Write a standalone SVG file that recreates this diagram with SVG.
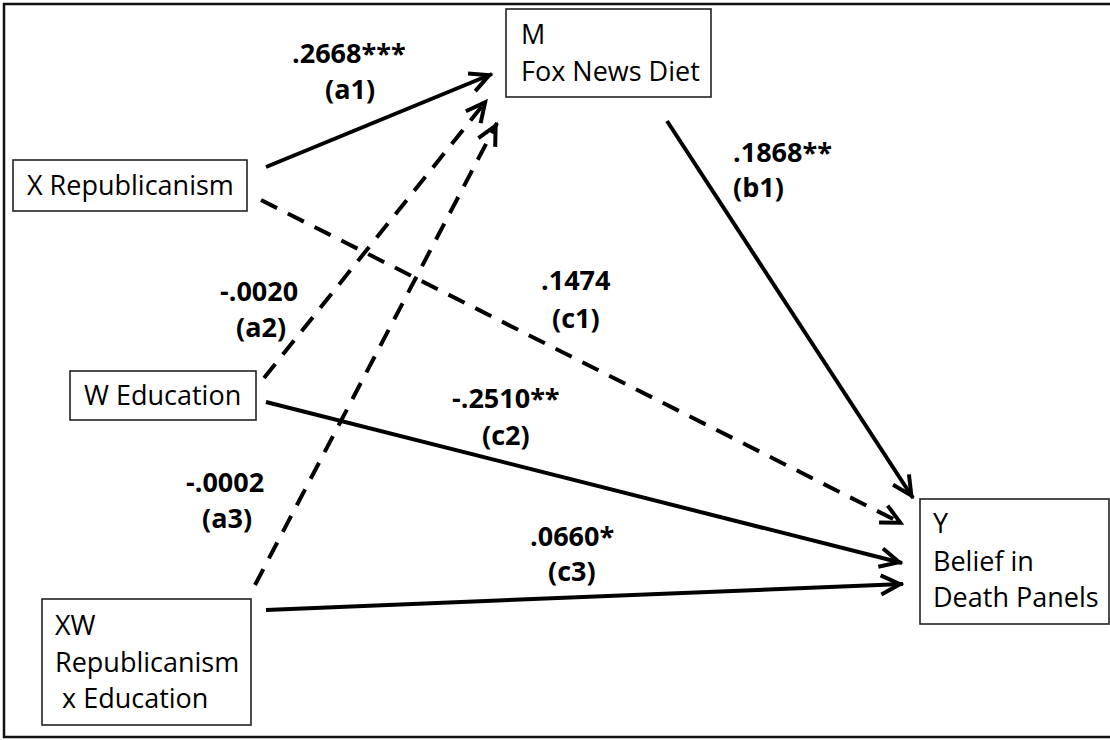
<svg xmlns="http://www.w3.org/2000/svg" width="1110" height="740" viewBox="0 0 1110 740">
<defs>
<style>
.frame{fill:#fff;stroke:#111;stroke-width:2.5}
.box{fill:#fff;stroke:#222;stroke-width:1.6}
.nt{font-family:"Open Sans","Liberation Sans",sans-serif;font-size:27px;fill:#000}
.lb{font-family:"Open Sans","Liberation Sans",sans-serif;font-size:27px;font-weight:bold;fill:#000}
.ln{fill:none;stroke:#000;stroke-width:4;marker-end:url(#arr)}
.dash{stroke-dasharray:18 12}
</style>
<marker id="arr" viewBox="-26 -14 30 28" refX="0" refY="0" markerWidth="30" markerHeight="28" markerUnits="userSpaceOnUse" orient="auto" overflow="visible">
<path d="M-22,-9.5 L-3,0 L-22,9.5" fill="none" stroke="#000" stroke-width="4" stroke-linejoin="miter" stroke-dasharray="none"/>
</marker>
</defs>
<rect class="frame" x="4" y="4" width="1110" height="733"/>
<g id="connectors">
<line id="a1" class="ln" x1="266" y1="167" x2="492" y2="74"/>
<line id="a2" class="ln dash" x1="264" y1="378" x2="487" y2="100"/>
<line id="a3" class="ln dash" x1="255" y1="585" x2="497" y2="123"/>
<line id="b1" class="ln" x1="667" y1="121" x2="913" y2="498"/>
<line id="c1" class="ln dash" x1="261" y1="200" x2="903" y2="524"/>
<line id="c2" class="ln" x1="266" y1="402" x2="902" y2="563"/>
<line id="c3" class="ln" x1="266" y1="610" x2="903" y2="584"/>
</g>
<g id="labels">
<text class="lb" x="292" y="63">.2668***</text>
<text class="lb" x="325" y="99">(a1)</text>
<text class="lb" x="733" y="162">.1868**</text>
<text class="lb" x="733" y="197">(b1)</text>
<text class="lb" x="541" y="290">.1474</text>
<text class="lb" x="552" y="328">(c1)</text>
<text class="lb" x="220" y="301">-.0020</text>
<text class="lb" x="236" y="337">(a2)</text>
<text class="lb" x="452" y="408">-.2510**</text>
<text class="lb" x="482" y="445">(c2)</text>
<text class="lb" x="186" y="492">-.0002</text>
<text class="lb" x="202" y="528">(a3)</text>
<text class="lb" x="530" y="546">.0660*</text>
<text class="lb" x="548" y="581">(c3)</text>
</g>
<g id="M">
<rect class="box" x="506" y="9" width="205" height="88"/>
<text class="nt" x="521" y="44">M</text>
<text class="nt" x="521" y="81">Fox News Diet</text>
</g>
<g id="X">
<rect class="box" x="13" y="160" width="234" height="51"/>
<text class="nt" x="27" y="195">X Republicanism</text>
</g>
<g id="W">
<rect class="box" x="70" y="371" width="186" height="49"/>
<text class="nt" x="84" y="405">W Education</text>
</g>
<g id="XW">
<rect class="box" x="42" y="599" width="209" height="126"/>
<text class="nt" x="55" y="635">XW</text>
<text class="nt" x="55" y="672">Republicanism</text>
<text class="nt" x="62" y="708">x Education</text>
</g>
<g id="Y">
<rect class="box" x="920" y="499" width="189" height="125"/>
<text class="nt" x="933" y="533">Y</text>
<text class="nt" x="933" y="571">Belief in</text>
<text class="nt" x="933" y="607">Death Panels</text>
</g>
</svg>
